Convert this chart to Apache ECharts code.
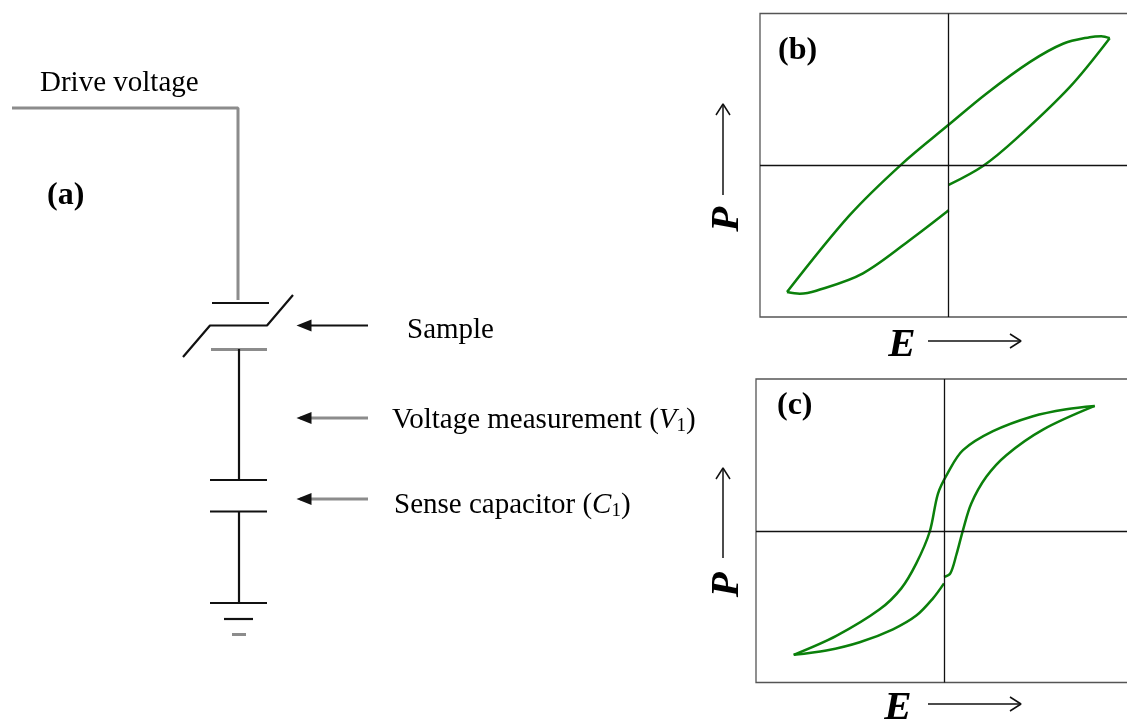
<!DOCTYPE html>
<html>
<head>
<meta charset="utf-8">
<style>html,body{margin:0;padding:0;background:#fff;overflow:hidden}#c{width:1127px;height:720px}</style>
<script src="https://cdn.jsdelivr.net/npm/echarts@6/dist/echarts.min.js"></script>
</head>
<body>
<div id="c"></div>
<script>
// Hysteresis loop (b): [E, P]
const bRising = [[-161,-127],[-98.3,-50],[-45.7,1.7],[0,40],[38.3,71.7],[81.7,103.3],[115,121.7],[141.7,128.3],[153.3,129.3],[161.7,127.3]];
const bFalling = [[161.7,127.3],[121.7,78.3],[68.3,26.7],[35,-0.7],[0.7,-19.7]];
const bTail = [[0.7,-45],[-31.7,-70],[-85,-108.3],[-131.7,-125.7],[-148.3,-128.7],[-161,-127]];
// Hysteresis loop (c): [E, P]
const cRising = [[-150.3,-124.3],[-107.7,-105.3],[-64.3,-78.7],[-42.7,-57.7],[-27.7,-32.7],[-14.3,-1],[-6,37.3],[4,58.3],[19,80.7],[49,99.7],[89,114.7],[122.3,121.7],[150.7,125]];
const cFalling = [[150.7,125],[99,101.3],[62.3,75.7],[42.3,54],[27.3,27.3],[19,0.7],[12.3,-24.3],[6.3,-42.7],[0,-46.3]];
const cTail = [[0,-52.7],[-11,-67.7],[-27.7,-85],[-51,-98.7],[-84.3,-111.7],[-117.7,-120],[-150.3,-124.3]];
// Circuit schematic, in the overlay's own scale
const wiresGrey = [[[12,108],[238,108],[238,300]],[[211,349.5],[267,349.5]],[[300,418],[368,418]],[[300,499],[368,499]],[[232,634.5],[246,634.5]]];
const wiresBlack = [[[212,303],[269,303]],[[183,357],[210,325.5],[267,325.5],[293,295]],[[239,349],[239,480]],[[210,480],[267,480]],[[210,511.5],[267,511.5]],[[239,511],[239,603]],[[210,603],[267,603]],[[224,619],[253,619]],[[300,325.5],[368,325.5]]];
const arrowTips = [[304,325.5],[304,418],[304,499]];
const openArrows = [[[928,341],[1021,341]],[[1010,334],[1021,341],[1010,348]],[[928,704],[1021,704]],[[1010,697],[1021,704],[1010,711]],[[723,195],[723,104]],[[716,115],[723,104],[730,115]],[[723,558],[723,468]],[[716,479],[723,468],[730,479]]];
// Text
const driveLabel = 'Drive voltage';
const sampleLabel = 'Sample';
const panelLabels = ['(a)', '(b)', '(c)'];
const axisTitles = ['E', 'P'];

const SERIF = '"Liberation Serif","Times New Roman",serif';
const GREEN = '#0b800b';

function loop(data, xi, yi, cross) {
  const s = {type:'line', data, xAxisIndex:xi, yAxisIndex:yi, symbol:'none', smooth:0.33, silent:true, clip:false,
    lineStyle:{color:GREEN, width:2.5}};
  if (cross) s.markLine = {silent:true, symbol:'none', label:{show:false}, animation:false,
    lineStyle:{color:'#111', width:1.3, type:'solid'}, data:[{xAxis:0},{yAxis:0}]};
  return s;
}
function wire(pts, color, width) {
  return {type:'line', data:pts, xAxisIndex:2, yAxisIndex:2, symbol:'none', silent:true,
    lineStyle:{color, width}};
}
function panelAxis(i) {
  return {
    x:{type:'value', gridIndex:i, min:-188, max:188, axisLine:{show:false}, axisTick:{show:false}, axisLabel:{show:false}, splitLine:{show:false},
       name:axisTitles[0], nameLocation:'middle', nameGap:i===0?8:5,
       nameTextStyle:{fontFamily:SERIF, fontStyle:'italic', fontWeight:'bold', fontSize:41, color:'#000', padding:[0,92,0,0]}},
    y:{type:'value', gridIndex:i, min:-152, max:152, axisLine:{show:false}, axisTick:{show:false}, axisLabel:{show:false}, splitLine:{show:false},
       name:axisTitles[1], nameLocation:'middle', nameGap:i===0?12:8,
       nameTextStyle:{fontFamily:SERIF, fontStyle:'italic', fontWeight:'bold', fontSize:41, color:'#000', padding:[0,108,0,0]}}
  };
}
const pb = panelAxis(0), pc = panelAxis(1);

const T = (x, y, text, extra) => ({type:'text', x, y, silent:true,
  style:Object.assign({text, fontFamily:SERIF, fontSize:29, fill:'#000', textVerticalAlign:'middle'}, extra||{})});
const rich = {
  t:{fontFamily:SERIF, fontSize:29, color:'#000'},
  i:{fontFamily:SERIF, fontSize:29, fontStyle:'italic', color:'#000'},
  s:{fontFamily:SERIF, fontSize:19, color:'#000', verticalAlign:'bottom', padding:[12,0,0,0]}
};

const chart = echarts.init(document.getElementById('c'), null, {renderer:'canvas'});
chart.setOption({
  animation:false,
  backgroundColor:'#fff',
  grid:[
    {left:760, top:13.5, width:376, height:303.5, outerBoundsMode:'none', show:true, borderColor:'#555', borderWidth:1.3, backgroundColor:'transparent'},
    {left:756, top:379, width:376, height:303.5, outerBoundsMode:'none', show:true, borderColor:'#555', borderWidth:1.3, backgroundColor:'transparent'},
    {left:0, top:0, width:1127, height:720, outerBoundsMode:'none', show:false}
  ],
  xAxis:[pb.x, pc.x, {type:'value', gridIndex:2, min:0, max:1127, show:false}],
  yAxis:[pb.y, pc.y, {type:'value', gridIndex:2, min:0, max:720, inverse:true, show:false}],
  series:[
    loop(bRising,0,0,true), loop(bFalling,0,0), loop(bTail,0,0),
    loop(cRising,1,1,true), loop(cFalling,1,1), loop(cTail,1,1),
    ...wiresGrey.map(p => wire(p,'#8c8c8c',3)),
    ...wiresBlack.map(p => wire(p,'#111',2.2)),
    ...openArrows.map(p => wire(p,'#111',1.5)),
    {type:'scatter', z:5, data:arrowTips, xAxisIndex:2, yAxisIndex:2, silent:true, symbol:'triangle', symbolRotate:90, symbolSize:[12,15], itemStyle:{color:'#111', opacity:1}}
  ],
  graphic:[
    T(40,83,driveLabel),
    T(407,330,sampleLabel),
    T(47,196,panelLabels[0],{fontWeight:'bold',fontSize:32}),
    T(778,51,panelLabels[1],{fontWeight:'bold',fontSize:32}),
    T(777,406,panelLabels[2],{fontWeight:'bold',fontSize:32}),
    T(392,420,'',{text:'{t|Voltage measurement (}{i|V}{s|1}{t|)}',rich}),
    T(394,505,'',{text:'{t|Sense capacitor (}{i|C}{s|1}{t|)}',rich})
  ]
});
</script>
</body>
</html>
